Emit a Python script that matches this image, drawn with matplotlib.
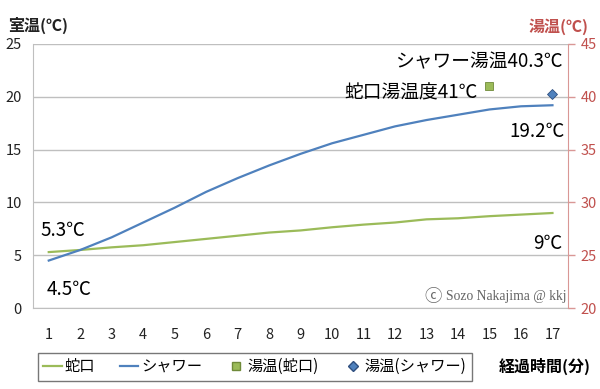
import matplotlib
matplotlib.use("Agg")
import matplotlib.pyplot as plt
from matplotlib.lines import Line2D

plt.rcParams['font.family'] = ['Noto Sans CJK JP', 'DejaVu Sans']

minutes = list(range(1, 18))
faucet = [5.3, 5.5, 5.75, 5.95, 6.25, 6.55, 6.85, 7.15, 7.35, 7.65, 7.9, 8.1, 8.4, 8.5, 8.7, 8.85, 9.0]
shower = [4.5, 5.5, 6.7, 8.1, 9.5, 11.0, 12.3, 13.5, 14.6, 15.6, 16.4, 17.2, 17.8, 18.3, 18.8, 19.1, 19.2]
hot_faucet_x, hot_faucet_y = 15, 41.0
hot_shower_x, hot_shower_y = 17, 40.3

green = '#9BBB59'
blue = '#4F81BD'
red = '#C0504D'

fig = plt.figure(figsize=(6, 3.89), dpi=100)
ax = fig.add_axes([0.055, 0.208, 0.892, 0.679])
ax2 = ax.twinx()

ax.plot(minutes, faucet, color=green, lw=1.6)
ax.plot(minutes, shower, color=blue, lw=1.6)
ax2.plot([hot_faucet_x], [hot_faucet_y], 's', color=green, ms=6, mec='#6f8a3a', mew=0.6)
ax2.plot([hot_shower_x], [hot_shower_y], 'D', color=blue, ms=5.5, mec='#2f4f7f', mew=0.6)

ax.set_xlim(0.5, 17.5)
ax.set_ylim(0, 25)
ax2.set_ylim(20, 45)
ax.set_yticks([0, 5, 10, 15, 20, 25])
ax2.set_yticks([20, 25, 30, 35, 40, 45])
ax.set_xticks(minutes)

ax.grid(axis='y', color='#BFBFBF', lw=1)
ax.set_axisbelow(True)
for s in ['top', 'right']:
    ax.spines[s].set_visible(False)
for s in ['top', 'left', 'bottom']:
    ax2.spines[s].set_visible(False)
ax.spines['left'].set_color('#BFBFBF')
ax.spines['bottom'].set_color('#BFBFBF')
ax2.spines['right'].set_color('#D99795')

ax.tick_params(axis='x', length=0, pad=14, labelsize=10.5, colors='#222222')
ax.tick_params(axis='y', length=0, pad=8, labelsize=10.5, colors='#222222')
ax2.tick_params(axis='y', length=5, width=1, color='#D99795', pad=4, labelsize=10.5, labelcolor=red)

fig.text(0.013, 0.934, '室温(℃)', fontsize=11.5, fontweight='bold', va='center', ha='left', color='#222222')
fig.text(0.981, 0.932, '湯温(℃)', fontsize=11.5, fontweight='bold', va='center', ha='right', color=red)

fs = 13.5
ax.text(17.31, 23.3, 'シャワー湯温40.3℃', ha='right', va='center', fontsize=fs)
ax.text(14.64, 20.4, '蛇口湯温度41℃', ha='right', va='center', fontsize=fs)
ax.text(17.4, 16.7, '19.2℃', ha='right', va='center', fontsize=fs)
ax.text(17.3, 6.15, '9℃', ha='right', va='center', fontsize=fs)
ax.text(0.75, 7.3, '5.3℃', ha='left', va='center', fontsize=fs)
ax.text(0.94, 1.8, '4.5℃', ha='left', va='center', fontsize=fs)
ax.text(17.45, 1.05, 'Sozo Nakajima @ kkj', ha='right', va='center', fontsize=9.8,
        family=['Liberation Serif', 'DejaVu Sans'], color='#666666')
ax.text(13.2, 1.05, 'ⓒ', ha='center', va='center', fontsize=12.5,
        family=['Noto Sans CJK JP', 'DejaVu Sans'], color='#666666')

handles = [
    Line2D([], [], color=green, lw=1.6, label='蛇口'),
    Line2D([], [], color=blue, lw=1.6, label='シャワー'),
    Line2D([], [], marker='s', ls='none', color=green, mec='#6f8a3a', ms=6, label='湯温(蛇口)'),
    Line2D([], [], marker='D', ls='none', color=blue, mec='#2f4f7f', ms=5, label='湯温(シャワー)'),
]
leg = fig.legend(handles=handles, loc='center', bbox_to_anchor=(0.425, 0.057), ncol=4,
                 frameon=True, fancybox=False, edgecolor='#555555', fontsize=11,
                 handlelength=1.2, handletextpad=0.2, columnspacing=1.6, borderpad=0.35)
leg.get_frame().set_linewidth(1.0)

fig.text(0.985, 0.057, '経過時間(分)', ha='right', va='center', fontsize=11.5, fontweight='bold')

fig.savefig('out.png', dpi=100)
